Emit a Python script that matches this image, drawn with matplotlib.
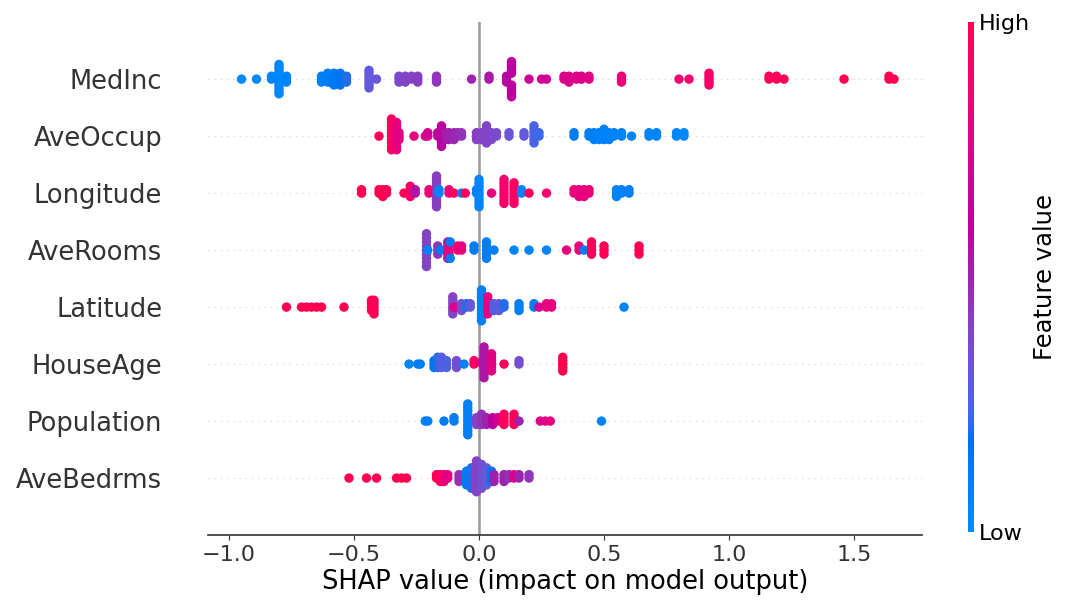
import numpy as np
import matplotlib
matplotlib.use("Agg")
import matplotlib.pyplot as plt
from matplotlib.colors import LinearSegmentedColormap

# features from bottom (y=0) to top
features = ["AveBedrms", "Population", "HouseAge", "Latitude",
            "AveRooms", "Longitude", "AveOccup", "MedInc"]

# (shap value, normalised feature value, number of samples)
medinc = [(-0.95, 0.02, 1), (-0.89, 0.03, 1), (-0.83, 0.04, 2), (-0.80, 0.03, 11),
          (-0.77, 0.05, 3), (-0.63, 0.08, 3), (-0.605, 0.10, 4), (-0.58, 0.12, 5),
          (-0.555, 0.15, 5), (-0.53, 0.20, 3), (-0.44, 0.30, 7), (-0.41, 0.32, 1),
          (-0.32, 0.38, 3), (-0.295, 0.40, 3), (-0.27, 0.40, 2), (-0.245, 0.42, 3),
          (-0.17, 0.45, 3), (-0.03, 0.50, 1), (0.04, 0.54, 2), (0.11, 0.58, 3),
          (0.13, 0.60, 10), (0.20, 0.66, 1), (0.25, 0.68, 1), (0.27, 0.68, 1),
          (0.34, 0.72, 2), (0.36, 0.73, 3), (0.39, 0.74, 2), (0.41, 0.74, 2),
          (0.44, 0.75, 2), (0.57, 0.80, 3), (0.80, 0.86, 1), (0.84, 0.86, 1),
          (0.92, 0.90, 5), (1.16, 0.96, 2), (1.19, 0.97, 2), (1.22, 0.97, 1),
          (1.46, 0.99, 1), (1.64, 1.00, 2), (1.66, 1.00, 1)]

aveoccup = [(-0.40, 0.98, 1), (-0.35, 0.95, 10), (-0.33, 0.80, 9), (-0.32, 0.75, 3),
            (-0.26, 0.78, 1), (-0.215, 0.72, 1), (-0.205, 0.70, 2), (-0.165, 0.62, 2),
            (-0.15, 0.60, 7), (-0.135, 0.55, 3), (-0.12, 0.50, 3), (-0.10, 0.50, 3),
            (-0.085, 0.48, 2), (-0.07, 0.46, 2), (-0.01, 0.42, 3), (0.01, 0.40, 3),
            (0.03, 0.40, 6), (0.05, 0.38, 3), (0.07, 0.36, 2), (0.12, 0.32, 2),
            (0.18, 0.30, 2), (0.22, 0.25, 6), (0.24, 0.22, 2), (0.38, 0.10, 2),
            (0.44, 0.08, 2), (0.46, 0.08, 3), (0.48, 0.06, 3), (0.50, 0.06, 4),
            (0.52, 0.06, 3), (0.54, 0.05, 2), (0.57, 0.05, 2), (0.61, 0.05, 1),
            (0.68, 0.04, 2), (0.71, 0.04, 2), (0.79, 0.03, 2), (0.82, 0.02, 2)]

longitude = [(-0.47, 1.00, 2), (-0.40, 1.00, 2), (-0.385, 1.00, 3), (-0.37, 0.98, 2),
             (-0.30, 0.97, 1), (-0.275, 0.90, 4), (-0.255, 0.55, 2), (-0.20, 0.85, 2),
             (-0.17, 0.42, 10), (-0.16, 0.05, 2), (-0.12, 0.80, 2), (-0.10, 0.95, 1),
             (-0.07, 0.08, 1), (-0.055, 0.95, 1), (-0.01, 0.08, 2), (0.0, 0.05, 9),
             (0.05, 0.80, 1), (0.10, 0.88, 8), (0.14, 0.92, 7), (0.17, 0.05, 2),
             (0.20, 0.95, 1), (0.27, 0.88, 1), (0.38, 0.82, 2), (0.40, 0.80, 3),
             (0.42, 0.78, 3), (0.44, 0.80, 2), (0.55, 0.05, 3), (0.57, 0.06, 2),
             (0.60, 0.08, 2)]

averooms = [(-0.21, 0.40, 9), (-0.205, 0.05, 1), (-0.165, 0.45, 3), (-0.155, 0.10, 1),
            (-0.125, 0.55, 5), (-0.12, 0.80, 3), (-0.115, 0.10, 2), (-0.085, 0.85, 2),
            (-0.07, 0.80, 2), (-0.02, 0.10, 2), (0.03, 0.08, 5), (0.06, 0.08, 1),
            (0.14, 0.06, 1), (0.20, 0.05, 1), (0.27, 0.05, 1), (0.35, 0.80, 1),
            (0.40, 0.82, 2), (0.42, 0.10, 1), (0.45, 0.95, 4), (0.50, 0.97, 3),
            (0.64, 1.00, 3)]

latitude = [(-0.77, 1.00, 1), (-0.71, 1.00, 1), (-0.69, 1.00, 1), (-0.67, 0.98, 1),
            (-0.65, 1.00, 1), (-0.63, 1.00, 1), (-0.54, 1.00, 1), (-0.43, 1.00, 4),
            (-0.42, 0.97, 5), (-0.105, 0.40, 6), (-0.10, 0.75, 1), (-0.07, 0.35, 3),
            (-0.05, 0.20, 2), (-0.035, 0.30, 2), (0.01, 0.08, 10), (0.035, 0.78, 6),
            (0.06, 0.25, 3), (0.08, 0.30, 3), (0.10, 0.20, 2), (0.16, 0.08, 3),
            (0.22, 0.08, 2), (0.24, 0.70, 1), (0.27, 0.80, 2), (0.29, 0.78, 2),
            (0.58, 0.05, 1)]

houseage = [(-0.28, 0.05, 1), (-0.245, 0.08, 1), (-0.235, 0.10, 1), (-0.18, 0.15, 3),
            (-0.165, 0.20, 4), (-0.15, 0.28, 4), (-0.13, 0.25, 3), (-0.09, 0.35, 3),
            (-0.06, 0.08, 1), (-0.02, 0.90, 2), (0.015, 0.70, 2), (0.02, 0.55, 10),
            (0.05, 0.75, 6), (0.10, 0.95, 1), (0.16, 0.35, 2), (0.335, 1.00, 5)]

population = [(-0.215, 0.08, 1), (-0.205, 0.08, 1), (-0.14, 0.10, 1), (-0.10, 0.10, 2),
              (-0.045, 0.08, 10), (-0.01, 0.40, 3), (0.01, 0.45, 4), (0.03, 0.50, 3),
              (0.055, 0.60, 3), (0.075, 0.70, 2), (0.10, 0.95, 4), (0.14, 0.97, 4),
              (0.16, 0.50, 1), (0.245, 0.75, 1), (0.265, 0.75, 1), (0.285, 0.78, 1),
              (0.49, 0.05, 1)]

avebedrms = [(-0.52, 1.00, 1), (-0.45, 1.00, 1), (-0.41, 1.00, 1), (-0.33, 1.00, 1),
             (-0.31, 1.00, 1), (-0.29, 1.00, 1), (-0.17, 1.00, 2), (-0.155, 0.95, 3),
             (-0.14, 0.85, 3), (-0.125, 0.75, 2), (-0.08, 0.45, 3), (-0.05, 0.10, 5),
             (-0.03, 0.20, 7), (-0.01, 0.40, 10), (0.01, 0.35, 8), (0.03, 0.30, 6),
             (0.05, 0.15, 4), (0.06, 0.50, 3), (0.10, 0.50, 3), (0.12, 0.45, 2),
             (0.14, 0.75, 2), (0.16, 0.50, 2), (0.20, 0.45, 2)]

rows = [avebedrms, population, houseage, latitude, averooms, longitude, aveoccup, medinc]


def lch_to_rgb(l, c, h):
    a = c * np.cos(h)
    b = c * np.sin(h)
    fy = (l + 16) / 116
    fx = fy + a / 500
    fz = fy - b / 200

    def finv(t):
        return np.where(t > 6 / 29, t ** 3, 3 * (6 / 29) ** 2 * (t - 4 / 29))

    xyz = np.array([0.95047 * finv(fx), finv(fy), 1.08883 * finv(fz)])
    m = np.array([[3.2406, -1.5372, -0.4986],
                  [-0.9689, 1.8758, 0.0415],
                  [0.0557, -0.2040, 1.0570]])
    rgb = m @ xyz
    rgb = np.where(rgb <= 0.0031308, 12.92 * rgb, 1.055 * np.abs(rgb) ** (1 / 2.4) - 0.055)
    return np.clip(rgb, 0, 1)


# blue -> red colour map interpolated in LCH space
nsteps = 100
l_vals = list(np.linspace(54, 40, nsteps // 2)) + list(np.linspace(40, 54, nsteps // 2))
c_vals = np.linspace(70, 90, nsteps)
h_vals = np.linspace(4.6588, 0.35470565 + 2 * np.pi, nsteps)
cols = [lch_to_rgb(l, c, h) for l, c, h in zip(l_vals, c_vals, h_vals)]
red_blue = LinearSegmentedColormap.from_list("red_blue", cols)


def swarm(shaps, row_height=0.4):
    n = len(shaps)
    quant = np.round(100 * (shaps - shaps.min()) / (shaps.max() - shaps.min() + 1e-8))
    inds = np.argsort(quant, kind="stable")
    ys = np.zeros(n)
    layer = 0
    last = -1
    for i in inds:
        if quant[i] != last:
            layer = 0
        ys[i] = np.ceil(layer / 2) * ((layer % 2) * 2 - 1)
        layer += 1
        last = quant[i]
    ys *= 0.9 * (row_height / np.max(ys + 1))
    return ys


fig = plt.figure(figsize=(10.7, 6.15), dpi=100)
ax = fig.add_axes([0.1944, 0.130, 0.6673, 0.834])

ax.axvline(0, color="#999999", lw=1.8, zorder=-1)

sc = None
for pos, row in enumerate(rows):
    ax.axhline(pos, color="#cccccc", lw=0.75, dashes=(1, 5), zorder=-1)
    shaps = np.repeat([r[0] for r in row], [r[2] for r in row]).astype(float)
    fvals = np.repeat([r[1] for r in row], [r[2] for r in row]).astype(float)
    ys = swarm(shaps)
    sc = ax.scatter(shaps, pos + ys, c=fvals, cmap=red_blue, vmin=0, vmax=1,
                    s=46, linewidth=0, alpha=1, zorder=3)

ax.set_ylim(-1, len(features))
ax.set_xlim(-1.084, 1.772)
ax.set_yticks(range(len(features)))
ax.set_yticklabels(features, fontsize=18.5)
ax.set_xticks([-1.0, -0.5, 0.0, 0.5, 1.0, 1.5])
ax.tick_params(color="#333333", labelcolor="#333333")
ax.tick_params("y", length=0, pad=33)
ax.tick_params("x", labelsize=16)
for side in ["right", "top", "left"]:
    ax.spines[side].set_visible(False)
ax.spines["bottom"].set_color("#333333")
ax.spines["bottom"].set_linewidth(1.2)
ax.set_xlabel("SHAP value (impact on model output)", fontsize=18.5, labelpad=3)

cax = fig.add_axes([968 / 1070, 0.135, 6 / 1070, 0.829])
cb = fig.colorbar(sc, cax=cax, ticks=[0, 1])
cb.set_ticklabels(["Low", "High"])
cb.ax.tick_params(labelsize=16, length=0)
cb.set_label("Feature value", size=17.5, labelpad=2)
cb.outline.set_visible(False)

fig.savefig("out.png", dpi=100)
